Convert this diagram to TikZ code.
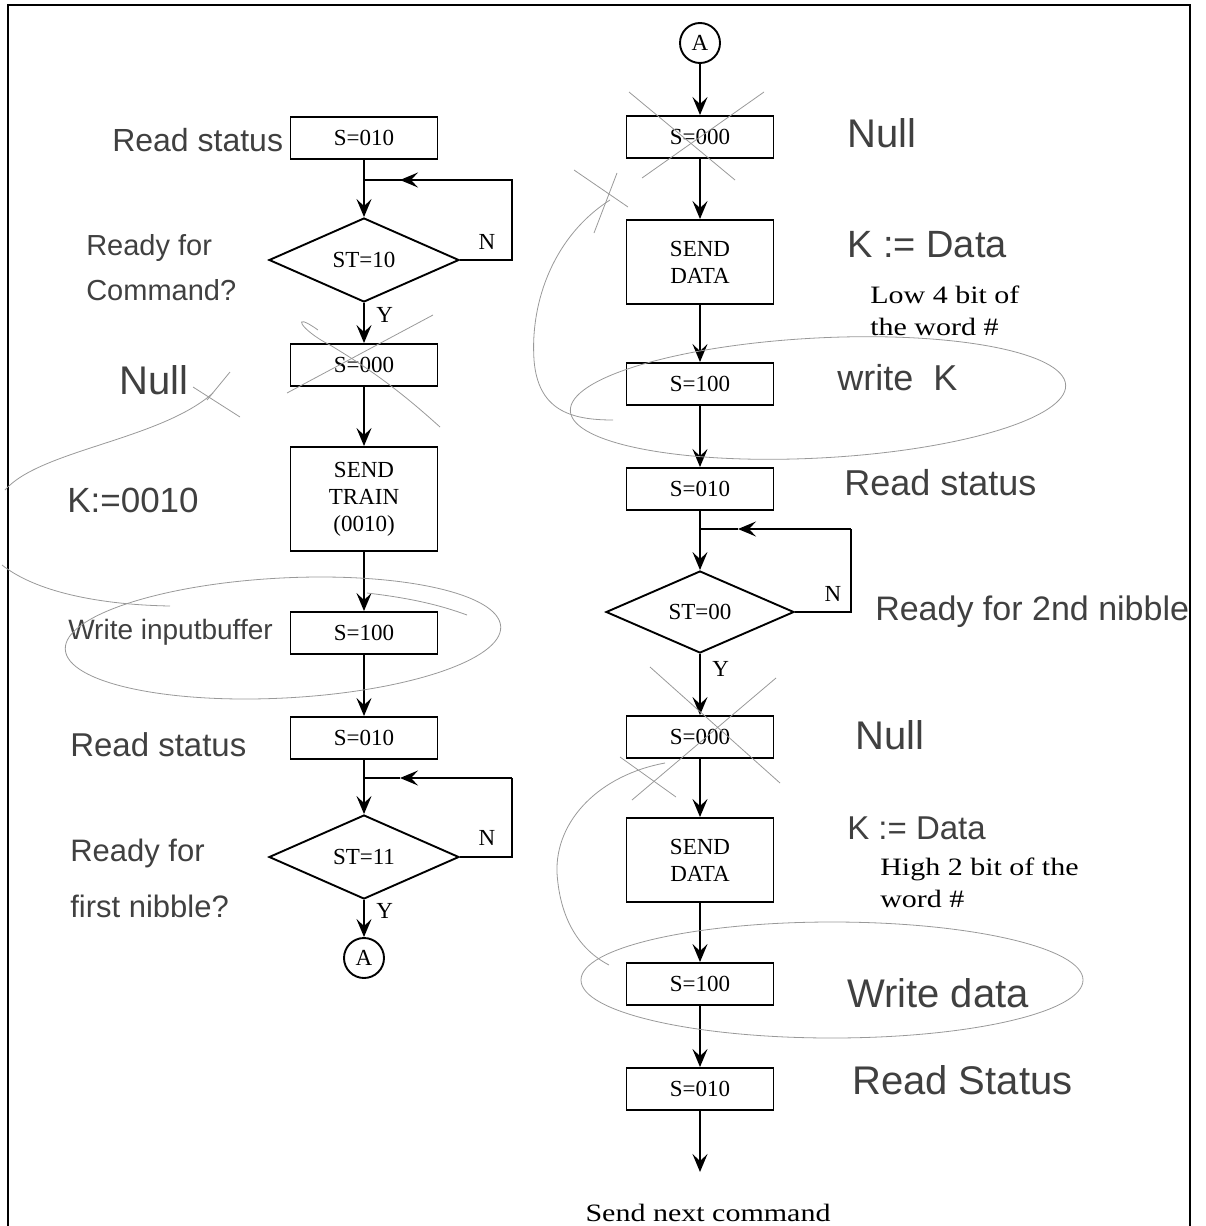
\documentclass[tikz,border=0pt]{standalone}
\usepackage{fontspec}
\setmainfont{Liberation Serif}
\newfontfamily\handfont{Liberation Sans}
\newfontfamily\notefont{Liberation Serif}[FakeStretch=1.2]
\usetikzlibrary{shapes.geometric,arrows.meta}

\begin{document}
\begin{tikzpicture}[x=1pt, y=-1pt, line width=1.9pt,
  box/.style = {draw, minimum width=147pt, minimum height=42pt, inner sep=2pt,
    align=center, font=\fontsize{23}{27}\selectfont},
  test/.style = {draw, diamond, minimum width=190pt, minimum height=84pt, inner sep=0pt,
    font=\fontsize{23}{27}\selectfont},
  conn/.style = {draw, circle, minimum size=40pt, inner sep=0pt, font=\fontsize{23}{27}\selectfont},
  flow/.style = {-{Stealth[length=18pt,width=15pt,inset=7pt]}},
  yn/.style = {font=\fontsize{23}{27}\selectfont},
  note/.style = {align=left, anchor=west, font=\notefont\fontsize{25}{32}\selectfont},
  hw/.style 2 args = {anchor=west, align=left, text=black!75, font=\handfont\fontsize{#1}{#2}\selectfont},
  pencil/.style = {draw=black!40, line width=0.8pt}]
  \useasboundingbox (0,0) rectangle (1206,1226);

  % frame
  \draw[line width=1.8pt] (8,1226) -- (8,5) -- (1190,5) -- (1190,1226);

  % left column
  \node[box] (a1) at (364,138) {S=010};
  \node[test] (d1) at (364,260) {ST=10};
  \node[box] (a2) at (364,365) {S=000};
  \node[box, minimum height=104pt] (a3) at (364,499) {SEND\\TRAIN\\(0010)};
  \node[box] (a4) at (364,633) {S=100};
  \node[box] (a5) at (364,738) {S=010};
  \node[test] (d2) at (364,857) {ST=11};
  \node[conn] (c1) at (364,958) {A};
  \coordinate (j1) at (364,180);
  \coordinate (h1) at (400,180);
  \coordinate (n1) at (512,180);
  \coordinate (j2) at (364,778);
  \coordinate (h2) at (400,778);
  \coordinate (n2) at (512,778);

  \draw[flow] (a1) -- (d1);
  \draw (d1.east) -| (n1) -- (h1);
  \draw[flow] (n1) -- (h1);
  \draw (h1) -- (j1);
  \draw[flow] (d1) -- node[yn, right, pos=0.3, xshift=8pt] {Y} (a2);
  \draw[flow] (a2) -- (a3);
  \draw[flow] (a3) -- (a4);
  \draw[flow] (a4) -- (a5);
  \draw[flow] (a5) -- (d2);
  \draw (d2.east) -| (n2);
  \draw[flow] (n2) -- (h2);
  \draw (h2) -- (j2);
  \draw[flow] (d2) -- node[yn, right, pos=0.3, xshift=8pt] {Y} (c1);
  \node[yn] (nl1) at (487,242) {N};
  \node[yn] (nl2) at (487,838) {N};

  % right column
  \node[conn] (c2) at (700,43) {A};
  \node[box] (b1) at (700,137) {S=000};
  \node[box, minimum height=84pt] (b2) at (700,262) {SEND\\DATA};
  \node[box] (b3) at (700,384) {S=100};
  \node[box] (b4) at (700,489) {S=010};
  \node[test, minimum width=188pt, minimum height=82pt] (d3) at (700,612) {ST=00};
  \node[box] (b5) at (700,737) {S=000};
  \node[box, minimum height=84pt] (b6) at (700,860) {SEND\\DATA};
  \node[box] (b7) at (700,984) {S=100};
  \node[box] (b8) at (700,1089) {S=010};
  \coordinate (j3) at (700,529);
  \coordinate (h3) at (738,529);
  \coordinate (n3) at (851,529);
  \coordinate (e1) at (700,1172);

  \draw[flow] (c2) -- (b1);
  \draw[flow] (b1) -- (b2);
  \draw[flow] (b2) -- (b3);
  \draw[flow] (b3) -- (b4);
  \draw[flow] (b4) -- (d3);
  \draw (d3.east) -| (n3);
  \draw[flow] (n3) -- (h3);
  \draw (h3) -- (j3);
  \draw[flow] (d3) -- node[yn, right, pos=0.25, xshift=8pt] {Y} (b5);
  \draw[flow] (b5) -- (b6);
  \draw[flow] (b6) -- (b7);
  \draw[flow] (b7) -- (b8);
  \draw[flow] (b8) -- (e1);
  \node[yn] (nl3) at (833,594) {N};
  \node[note] (low) at (866,311) {Low 4 bit of\\the word \#};
  \node[note] (high) at (876,883) {High 2 bit of the\\word \#};
  \node[font=\notefont\fontsize{25}{27}\selectfont] (next) at (708,1213) {Send next command};

  % handwritten notes
  \node[hw={32}{38}] (h01) at (108,140) {Read status};
  \node[hw={29}{45}] (h02) at (82,268) {Ready for\\Command?};
  \node[hw={40}{44}] (h03) at (115,380) {Null};
  \node[hw={35}{40}] (h04) at (63,500) {K:=0010};
  \node[hw={28}{30}] (h05) at (64,632) {Write inputbuffer};
  \node[hw={33}{38}] (h06) at (66,745) {Read status};
  \node[hw={31}{56}] (h07) at (66,878) {Ready for\\first nibble?};
  \node[hw={40}{44}] (h08) at (843,133) {Null};
  \node[hw={38}{44}] (h09) at (843,245) {K := Data};
  \node[hw={36}{40}] (h10) at (833,378) {write\ \ K};
  \node[hw={36}{40}] (h11) at (840,483) {Read status};
  \node[hw={34}{40}] (h12) at (871,612) {Ready for 2nd nibble};
  \node[hw={40}{44}] (h13) at (851,735) {Null};
  \node[hw={33}{40}] (h14) at (843,828) {K := Data};
  \node[hw={40}{44}] (h15) at (843,993) {Write data};
  \node[hw={40}{44}] (h16) at (848,1080) {Read Status};

  % pencil marks
  \draw[pencil] (287,393) -- (433,315);
  \draw[pencil] (318,330) .. controls (290,310) and (300,330) .. (330,345) .. controls (380,375) and (410,400) .. (440,427);
  \draw[pencil] (193,387) -- (240,417);
  \draw[pencil] (230,372) -- (207,400);
  \draw[pencil] (213,393) .. controls (160,440) and (40,450) .. (5,490);
  \draw[pencil] (2,565) .. controls (40,595) and (110,605) .. (170,606);
  \draw[pencil, rotate around={3:(283,638)}] (283,638) ellipse [x radius=218, y radius=60];
  \draw[pencil] (367,593) .. controls (410,598) and (440,605) .. (467,615);
  \draw[pencil] (629,92) -- (735,180);
  \draw[pencil] (764,92) -- (642,178);
  \draw[pencil] (574,170) -- (628,207);
  \draw[pencil] (617,173) -- (594,233);
  \draw[pencil] (610,200) .. controls (555,235) and (530,300) .. (534,360) .. controls (538,410) and (570,420) .. (613,420);
  \draw[pencil, rotate around={3:(818,398)}] (818,398) ellipse [x radius=248, y radius=60];
  \draw[pencil] (650,667) -- (780,783);
  \draw[pencil] (776,678) -- (632,800);
  \draw[pencil] (620,757) -- (676,797);
  \draw[pencil] (665,763) .. controls (600,775) and (555,820) .. (557,873) .. controls (560,920) and (580,950) .. (609,965);
  \draw[pencil] (832,980) ellipse [x radius=251, y radius=58];
\end{tikzpicture}
\end{document}
